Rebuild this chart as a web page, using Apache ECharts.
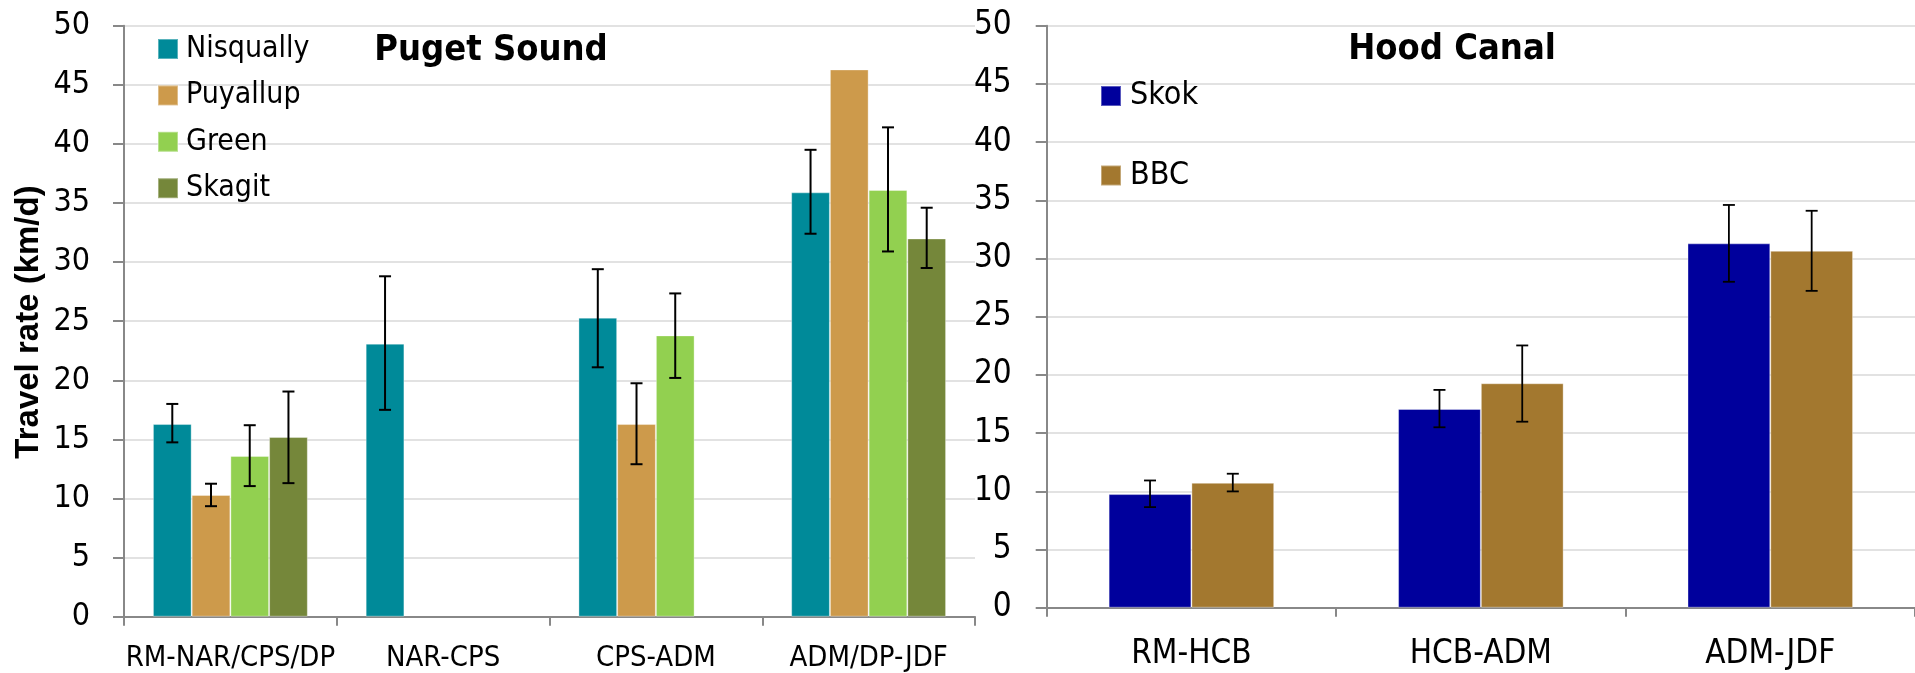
<!DOCTYPE html>
<html>
<head>
<meta charset="utf-8">
<script src="https://cdn.jsdelivr.net/npm/echarts@6/dist/echarts.min.js"></script>
<style>
html,body{margin:0;padding:0;background:#fff;overflow:hidden;}
#c{width:1915px;height:673px;}
</style>
</head>
<body>
<div id="c"></div>
<script>
// ---------- data ----------
const psCategories = ['RM-NAR/CPS/DP', 'NAR-CPS', 'CPS-ADM', 'ADM/DP-JDF'];
const psSeriesNames = ['Nisqually', 'Puyallup', 'Green', 'Skagit'];
const nisquallyVals = [16.3, 23.1, 25.3, 35.9];
const nisquallyLow  = [14.75, 17.5, 21.1, 32.4];
const nisquallyHigh = [18.0, 28.8, 29.4, 39.5];
const puyallupVals  = [10.3, null, 16.3, 46.3];
const puyallupLow   = [9.35, null, 12.9, null];
const puyallupHigh  = [11.25, null, 19.75, null];
const greenVals     = [13.6, null, 23.8, 36.1];
const greenLow      = [11.05, null, 20.2, 30.9];
const greenHigh     = [16.2, null, 27.35, 41.4];
const skagitVals    = [15.2, null, null, 32.0];
const skagitLow     = [11.3, null, null, 29.5];
const skagitHigh    = [19.05, null, null, 34.6];

const hcCategories = ['RM-HCB', 'HCB-ADM', 'ADM-JDF'];
const hcSeriesNames = ['Skok', 'BBC'];
const skokVals = [9.76, 17.07, 31.3];
const skokLow  = [8.64, 15.5, 28.0];
const skokHigh = [10.93, 18.71, 34.6];
const bbcVals  = [10.73, 19.28, 30.66];
const bbcLow   = [9.99, 15.98, 27.22];
const bbcHigh  = [11.51, 22.53, 34.1];

const yTicks = { min: 0, max: 50, interval: 5 };

// ---------- styles ----------
const NARROW = "'DejaVu Sans Condensed', 'DejaVu Sans', sans-serif";
const REG = "'Liberation Sans', Arial, sans-serif";
const psColors = ['#008a99', '#cd9a4b', '#92d050', '#75873a'];
const hcColors = ['#00009c', '#a3782f'];
const axisGray = '#888888';
const gridGray = '#d9d9d9';

const psBarFrac = 0.182;
const hcBarFrac = 0.286;

function errItem(nSeries, idx, barFrac, cap, lw) {
  return function (params, api) {
    const lowV = api.value(1), highV = api.value(2);
    if (lowV == null || highV == null || isNaN(lowV) || isNaN(highV)) return null;
    const cat = api.value(0);
    const lo = api.coord([cat, lowV]);
    const hi = api.coord([cat, highV]);
    const band = api.size([1, 0])[0];
    const bw = band * barFrac;
    const x = lo[0] + (idx - (nSeries - 1) / 2) * bw;
    const st = { stroke: '#000', lineWidth: lw };
    return {
      type: 'group',
      children: [
        { type: 'line', shape: { x1: x, y1: lo[1], x2: x, y2: hi[1] }, style: st },
        { type: 'line', shape: { x1: x - cap / 2, y1: lo[1], x2: x + cap / 2, y2: lo[1] }, style: st },
        { type: 'line', shape: { x1: x - cap / 2, y1: hi[1], x2: x + cap / 2, y2: hi[1] }, style: st }
      ]
    };
  };
}

function errData(lowArr, highArr) {
  return lowArr.map((l, i) => [i, l, highArr[i]]);
}

function yAxisCfg(gridIndex, fontSize, margin) {
  return {
    type: 'value', gridIndex: gridIndex,
    min: yTicks.min, max: yTicks.max, interval: yTicks.interval,
    axisLine: { show: true, lineStyle: { color: axisGray, width: 2 } },
    axisTick: { show: true, length: 11, lineStyle: { color: axisGray, width: 2 } },
    splitLine: { show: true, lineStyle: { color: gridGray, width: 1.6 } },
    axisLabel: { color: '#000', fontFamily: NARROW, fontSize: fontSize, margin: margin }
  };
}
function xAxisCfg(gridIndex, cats, fontSize, margin) {
  return {
    type: 'category', gridIndex: gridIndex, data: cats,
    axisLine: { show: true, lineStyle: { color: axisGray, width: 2 } },
    axisTick: { show: true, length: 9, lineStyle: { color: axisGray, width: 2 } },
    axisLabel: { color: '#000', fontFamily: NARROW, fontSize: fontSize, margin: margin, interval: 0 }
  };
}

const psVals = [nisquallyVals, puyallupVals, greenVals, skagitVals];
const psLow = [nisquallyLow, puyallupLow, greenLow, skagitLow];
const psHigh = [nisquallyHigh, puyallupHigh, greenHigh, skagitHigh];
const hcVals = [skokVals, bbcVals];
const hcLow = [skokLow, bbcLow];
const hcHigh = [skokHigh, bbcHigh];

const series = [];
psSeriesNames.forEach((name, i) => {
  series.push({
    name: name, type: 'bar', xAxisIndex: 0, yAxisIndex: 0,
    data: psVals[i], barWidth: (psBarFrac * 100) + '%', barGap: '0%',
    itemStyle: { color: psColors[i], borderColor: 'rgba(255,255,255,0.35)', borderWidth: 1 },
    emphasis: { disabled: true }, z: 2
  });
});
psSeriesNames.forEach((name, i) => {
  series.push({
    type: 'custom', xAxisIndex: 0, yAxisIndex: 0, z: 5,
    renderItem: errItem(4, i, psBarFrac, 12, 2),
    data: errData(psLow[i], psHigh[i]), silent: true
  });
});
hcSeriesNames.forEach((name, i) => {
  series.push({
    name: name, type: 'bar', xAxisIndex: 1, yAxisIndex: 1,
    data: hcVals[i], barWidth: (hcBarFrac * 100) + '%', barGap: '0%',
    itemStyle: { color: hcColors[i], borderColor: 'rgba(255,255,255,0.35)', borderWidth: 1 },
    emphasis: { disabled: true }, z: 2
  });
});
hcSeriesNames.forEach((name, i) => {
  series.push({
    type: 'custom', xAxisIndex: 1, yAxisIndex: 1, z: 5,
    renderItem: errItem(2, i, hcBarFrac, 12, 1.8),
    data: errData(hcLow[i], hcHigh[i]), silent: true
  });
});

const option = {
  animation: false,
  backgroundColor: '#fff',
  grid: [
    { left: 124, top: 25.7, width: 851, height: 591 },
    { left: 1046.7, top: 25.7, width: 873, height: 582 }
  ],
  xAxis: [
    xAxisCfg(0, psCategories, 29, 27),
    xAxisCfg(1, hcCategories, 33, 30)
  ],
  yAxis: [
    yAxisCfg(0, 32, 34),
    yAxisCfg(1, 33, 35)
  ],
  title: [
    { text: 'Puget Sound', left: 486, top: 28, textAlign: 'center',
      textStyle: { fontFamily: NARROW, fontWeight: 'bold', fontSize: 36, color: '#000' } },
    { text: 'Hood Canal', left: 1447, top: 27, textAlign: 'center',
      textStyle: { fontFamily: NARROW, fontWeight: 'bold', fontSize: 36, color: '#000' } }
  ],
  legend: [
    { data: psSeriesNames, orient: 'vertical', left: 152, top: 29, itemWidth: 20, itemHeight: 20,
      itemGap: 16.4, icon: 'rect', selectedMode: false,
      textStyle: { fontFamily: NARROW, fontSize: 30, color: '#000', padding: [0, 0, 0, 3] } },
    { data: hcSeriesNames, orient: 'vertical', left: 1095, top: 75, itemWidth: 20, itemHeight: 20,
      itemGap: 47.5, icon: 'rect', selectedMode: false,
      textStyle: { fontFamily: NARROW, fontSize: 32, color: '#000', padding: [0, 0, 0, 4] } }
  ],
  graphic: [
    { type: 'text', x: 29, y: 322, rotation: Math.PI / 2,
      style: { text: 'Travel rate (km/d)', font: 'bold 33px ' + REG, fill: '#000',
               textAlign: 'center', textVerticalAlign: 'middle' } }
  ],
  series: series
};

const chart = echarts.init(document.getElementById('c'), null, { renderer: 'canvas' });
chart.setOption(option);
</script>
</body>
</html>
